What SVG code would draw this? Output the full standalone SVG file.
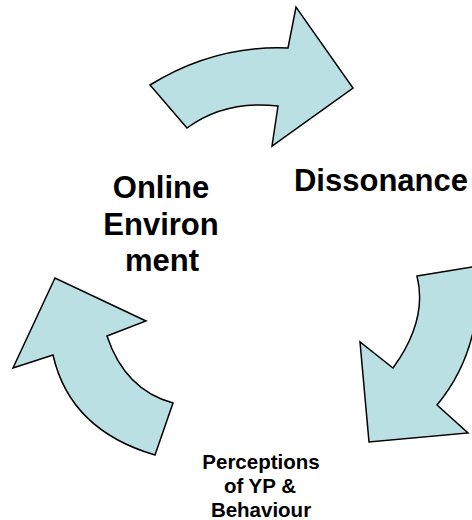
<svg xmlns="http://www.w3.org/2000/svg" width="472" height="520" viewBox="0 0 472 520">
<style>
.arrow{fill:#BBE0E3;stroke:#000;stroke-width:1.5;stroke-linejoin:miter}
.big{font-family:"Liberation Sans",Arial,sans-serif;font-weight:bold;font-size:31px;fill:#000;text-anchor:middle}
.small{font-family:"Liberation Sans",Arial,sans-serif;font-weight:bold;font-size:20.5px;fill:#000;text-anchor:middle}
</style>
<rect width="472" height="520" fill="#fff"/>
<g id="connectors">
<path id="arrow-top" class="arrow" d="M150,85 Q215,45 288,48 L296,7 L353,88 L272,146 L278,106 Q225,100 187,128 Z"/>
<path id="arrow-right" class="arrow" d="M417,276 L478,266 Q483,350 437,405 L468,433 L369,442 L360,342 L393,368 Q428,320 417,276 Z"/>
<path id="arrow-left" class="arrow" d="M155,455 L173,403 Q125,390 107,336 L146,321 L55,278 L13,368 L53,355 Q70,430 155,455 Z"/>
</g>
<g id="node-online">
<text class="big" x="161" y="198">Online</text>
<text class="big" x="161" y="235">Environ</text>
<text class="big" x="162" y="271">ment</text>
</g>
<g id="node-dissonance">
<text class="big" x="381" y="191">Dissonance</text>
</g>
<g id="node-perceptions">
<text class="small" x="261" y="469">Perceptions</text>
<text class="small" x="260" y="493">of YP &amp;</text>
<text class="small" x="261" y="517">Behaviour</text>
</g>
</svg>
